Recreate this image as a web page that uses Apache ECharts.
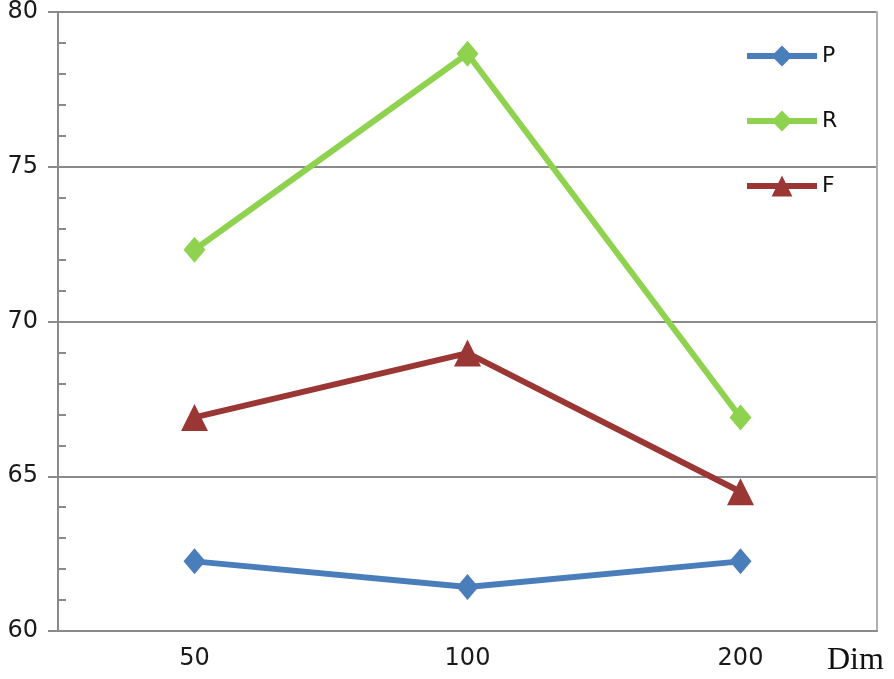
<!DOCTYPE html>
<html><head><meta charset="utf-8">
<script src="https://cdn.jsdelivr.net/npm/echarts@6/dist/echarts.min.js"></script>
<style>html,body{margin:0;padding:0;background:#fff}#c{width:894px;height:679px}</style>
</head><body><div id="c"></div>
<script>
var categories = ['50', '100', '200'];
var pValues = [62.25, 61.42, 62.25];
var rValues = [72.32, 78.65, 66.9];
var fValues = [66.9, 68.98, 64.5];
var seriesNames = ['P', 'R', 'F'];
var xAxisTitle = 'Dim';

var chart = echarts.init(document.getElementById('c'), null, {renderer: 'canvas'});
var gridColor = '#8a8a8a';
var lbl = {fontFamily: 'DejaVu Sans', fontSize: 24, color: '#1a1a1a'};
function yBase(extra) {
  return Object.assign({type: 'value', min: 60, max: 80, interval: 5, position: 'left'}, extra);
}
chart.setOption({
  animation: false,
  backgroundColor: '#fff',
  grid: {left: 58, right: 17, top: 12, bottom: 48, containLabel: false},
  title: {text: xAxisTitle, left: 822, top: 640,
    textStyle: {fontFamily: 'Liberation Serif', fontSize: 32, fontWeight: 'normal', color: '#111'}},
  legend: {
    orient: 'vertical', left: 739, top: 40, itemWidth: 70, itemHeight: 26, itemGap: 43,
    lineStyle: {width: 6},
    textStyle: {fontFamily: 'DejaVu Sans', fontSize: 22, color: '#111'},
    data: seriesNames
  },
  xAxis: {
    type: 'category', data: categories, boundaryGap: true,
    axisLine: {show: true, lineStyle: {color: gridColor, width: 2}},
    axisTick: {show: false},
    axisLabel: Object.assign({margin: 16}, lbl),
    splitLine: {show: false}
  },
  yAxis: [
    yBase({
      axisLine: {show: true, lineStyle: {color: gridColor, width: 2}},
      axisTick: {show: true, length: 10, lineStyle: {color: gridColor, width: 2}},
      axisLabel: Object.assign({margin: 20}, lbl),
      splitLine: {show: true, lineStyle: {color: gridColor, width: 2}}
    }),
    yBase({
      interval: 1, offset: -8,
      axisLine: {show: false},
      axisTick: {show: true, length: 8, lineStyle: {color: gridColor, width: 2}},
      axisLabel: {show: false},
      splitLine: {show: false}
    }),
    yBase({
      position: 'right',
      axisLine: {show: true, lineStyle: {color: '#b0b0b0', width: 2}},
      axisTick: {show: false}, axisLabel: {show: false}, splitLine: {show: false}
    })
  ],
  series: [
    {name: seriesNames[0], type: 'line', data: pValues, color: '#4a7ebb',
     symbol: 'diamond', symbolSize: [22, 26], lineStyle: {width: 6}},
    {name: seriesNames[1], type: 'line', data: rValues, color: '#8fd24f',
     symbol: 'diamond', symbolSize: [22, 26], lineStyle: {width: 6}},
    {name: seriesNames[2], type: 'line', data: fValues, color: '#9a3634',
     symbol: 'triangle', symbolSize: [27, 27], lineStyle: {width: 6}}
  ]
});
</script></body></html>
